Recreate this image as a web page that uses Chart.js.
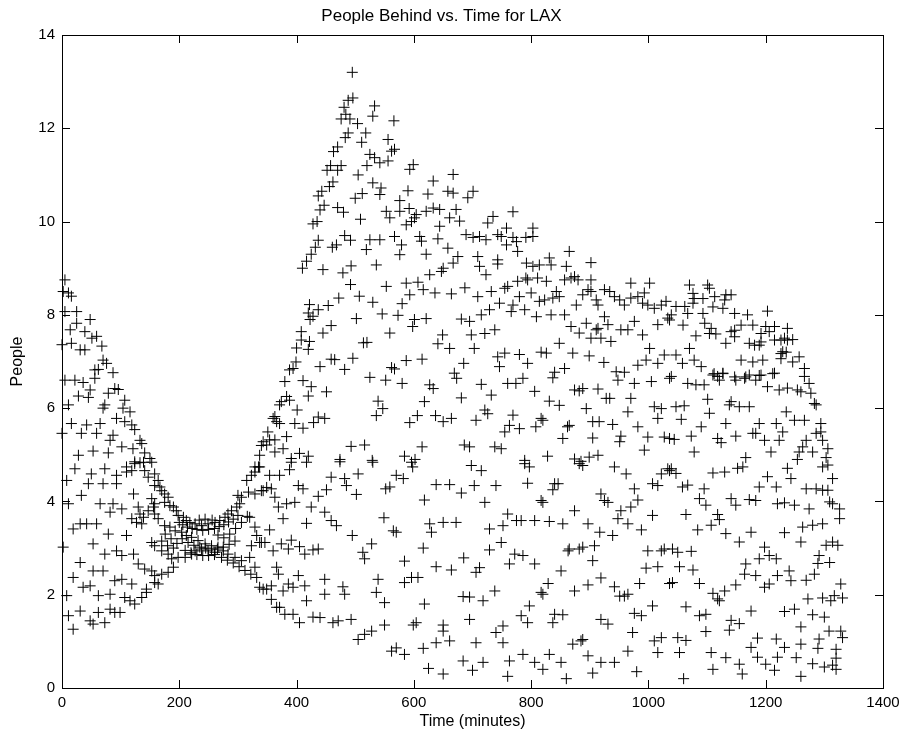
<!DOCTYPE html>
<html>
<head>
<meta charset="utf-8">
<script src="https://cdn.jsdelivr.net/npm/chart.js@4/dist/chart.umd.min.js"></script>
<style>
  html, body { margin: 0; padding: 0; background: #fff; }
  canvas { display: block; }
</style>
</head>
<body>
<canvas id="chart" width="913" height="739"></canvas>
<script>
// Axis ticks
const xTicks = [0, 200, 400, 600, 800, 1000, 1200, 1400];
const yTicks = [0, 2, 4, 6, 8, 10, 12, 14];

// Samples as [time in minutes, people behind]
const earlyHours = [
  [5,8.75],[2,8.5],[11,8.47],[16,8.4],[5,8.07],[25,8.07],[48,7.9],[25,7.82],[14,7.68],[39,7.64],[51,7.5],[59,7.54],
  [0,7.36],[16,7.39],[31,7.25],[39,7.25],[68,7.33],[70,7.03],[76,6.96],[62,6.83],[56,6.82],[87,6.76],[5,6.6],[22,6.6],
  [36,6.55],[56,6.64],[90,6.42],[96,6.4],[79,6.32],[48,6.39],[28,6.26],[45,6.23],[107,6.17],[11,6.07],[73,6.07],[70,6.0],
  [104,6.0],[116,5.92],[93,5.78],[107,5.71],[119,5.64],[124,5.54],[16,5.67],[42,5.64],[65,5.67],[0,5.46],[33,5.46],[59,5.46],
  [87,5.42],[82,5.31],[133,5.31],[136,5.24],[102,5.17],[121,5.13],[28,4.99],[53,5.08],[79,5.04],[141,5.04],[150,4.92],
  [124,4.85],[133,4.83],[329,4.74],[337,4.99],[340,5.2],
  [22,4.7],[50,4.59],[73,4.7],[93,4.56],[110,4.74],[124,4.81],[139,4.84],[153,4.84],[110,4.63],[119,4.66],[8,4.45],
  [45,4.38],[70,4.38],[93,4.38],[141,4.66],[147,4.52],[158,4.59],[164,4.45],[158,4.34],[167,4.31],[170,4.23],[175,4.16],
  [181,4.09],[33,4.13],[122,4.16],[153,4.06],[158,3.95],[156,3.88],[11,3.95],[65,3.95],[87,3.95],[102,3.84],[82,3.77],
  [130,3.88],[133,3.73],[139,3.66],[175,3.98],[184,3.91],[190,3.88],[195,3.8],[198,3.7],[207,3.66],[212,3.59],[218,3.55],
  [227,3.52],[238,3.48],[249,3.52],[261,3.55],[269,3.59],[278,3.66],[283,3.73],[289,3.8],[298,3.88],[303,3.95],[147,3.8],
  [158,3.73],[164,3.63],[119,3.63],[127,3.55],[136,3.52],[19,3.41],[31,3.52],[42,3.52],[59,3.52],[79,3.3],[110,3.27],
  [175,3.48],[184,3.45],[193,3.37],[204,3.34],[212,3.27],[221,3.23],[232,3.16],[244,3.09],[255,3.05],[266,3.02],[275,2.94],
  [283,2.87],[295,2.8],[306,2.73],[2,3.02],[53,3.09],[73,2.87],[93,2.94],[102,2.84],[122,2.87],[153,3.12],[158,3.05],
  [170,2.94],[181,2.87],[187,2.77],[198,2.8],[210,2.8],[221,2.87],[227,2.94],[238,2.98],[249,2.94],[261,2.91],[31,2.69],
  [53,2.51],[70,2.51],[130,2.66],[141,2.55],[153,2.51],[158,2.41],[170,2.44],[181,2.48],[190,2.59],[19,2.37],[36,2.16],
  [48,2.19],[90,2.3],[102,2.33],[119,2.23],[144,2.12],[158,2.26],[164,2.23],[8,1.98],[62,1.98],[82,2.01],[107,1.94],
  [116,1.87],[124,1.8],[136,1.94],[144,2.05],[11,1.55],[31,1.65],[48,1.44],[53,1.37],[62,1.62],[73,1.4],[82,1.69],
  [90,1.62],[99,1.62],[19,1.26],[315,4.45],[323,4.56],[329,4.63],[335,4.74],[300,4.13],[306,4.09],[318,4.2],[329,4.16],
  [340,4.23],[340,3.12],[320,3.66],[329,3.45],[332,3.27],[323,3.05],[320,2.8],[329,2.59],[332,2.37],[337,2.16],[343,2.12],
  [200,3.55],[206,3.5],[214,3.45],[222,3.42],[230,3.4],[240,3.38],[250,3.4],[260,3.42],[268,3.46],[276,3.5],[284,3.56],
  [292,3.62],[300,3.7],[205,3.2],[215,3.12],[225,3.06],[235,3.02],[245,3.0],[255,2.98],[265,2.98],[275,3.02],[285,3.08],
  [295,3.15],[210,2.95],[220,2.9],[230,2.86],[240,2.84],[250,2.84],[260,2.86],[272,2.8],[282,2.74],[292,2.68],[302,2.6],
  [312,2.52],[322,2.44],[196,3.1],[186,3.2],[176,3.3],[190,3.0],[180,3.05],[170,3.15],[234,3.6],[244,3.62],[256,3.6],
  [266,3.28],[276,3.22],[286,3.3],[296,3.42],[306,3.55],[316,3.68]
];

const midday = [
  [479,8.9],[445,8.97],[492,8.65],[553,8.61],[587,8.68],[607,8.7],[627,8.86],[647,8.93],[616,8.54],[636,8.47],[664,8.45],
  [687,8.58],[472,8.36],[507,8.4],[530,8.27],[580,8.24],[593,8.43],[422,8.22],[437,8.11],[454,8.2],[420,8.04],[428,7.97],
  [423,7.9],[502,7.92],[546,8.02],[573,7.99],[601,7.9],[621,7.92],[598,7.75],[681,7.91],[459,7.77],[408,7.64],[445,7.61],
  [559,7.61],[408,7.46],[422,7.43],[400,7.29],[420,7.26],[514,7.4],[520,7.41],[649,7.57],[641,7.38],[661,7.28],[459,7.05],
  [465,7.04],[496,7.07],[440,6.89],[399,6.99],[388,6.82],[394,6.85],[482,6.83],[587,7.02],[614,7.05],[562,6.87],[567,6.84],
  [685,6.96],[669,6.75],[673,6.64],[380,6.57],[411,6.59],[425,6.46],[525,6.66],[552,6.6],[580,6.53],[627,6.5],[633,6.42],
  [451,6.35],[420,6.26],[383,6.25],[374,6.14],[388,6.17],[371,6.07],[539,6.15],[547,5.99],[618,6.14],[681,6.22],[401,5.96],
  [363,5.82],[366,5.71],[371,5.67],[360,5.78],[437,5.81],[448,5.78],[429,5.69],[397,5.67],[411,5.57],[536,5.84],[606,5.84],
  [593,5.69],[637,5.84],[650,5.71],[664,5.78],[351,5.49],[343,5.28],[354,5.32],[363,5.32],[383,5.39],[349,5.21],[363,5.06],
  [377,5.13],[391,4.92],[405,5.03],[420,4.97],[493,5.18],[516,5.21],[614,5.17],[686,5.21],[474,4.9],[529,4.88],[584,4.97],
  [602,4.9],
  [337,4.74],[354,4.56],[371,4.56],[388,4.68],[391,4.84],[417,4.84],[474,4.85],[530,4.84],[505,4.59],[459,4.52],[482,4.49],
  [485,4.34],[570,4.56],[582,4.49],[598,4.74],[596,4.84],[638,4.36],[661,4.36],[681,4.18],[343,4.23],[349,4.3],[357,4.27],
  [403,4.34],[411,4.27],[451,4.25],[437,4.11],[502,4.15],[552,4.27],[559,4.31],[618,4.03],[363,4.09],[369,3.88],[383,3.95],
  [397,3.98],[425,3.88],[448,3.77],[459,3.59],[468,3.48],[377,3.63],[417,3.53],[549,3.65],[565,3.37],[570,3.34],[627,3.52],
  [650,3.55],[672,3.55],[630,3.34],[495,3.27],[354,3.39],[337,3.12],[346,3.12],[374,3.09],[391,3.17],[405,3.03],[386,2.98],
  [360,2.94],[414,2.87],[428,2.96],[437,2.98],[528,3.09],[513,2.91],[516,2.77],[616,3.0],[584,2.72],[638,2.6],[664,2.53],
  [685,2.79],[366,2.59],[369,2.44],[403,2.41],[386,2.23],[414,2.19],[448,2.33],[349,2.12],[357,2.19],[377,2.08],[394,2.16],
  [448,2.01],[479,2.17],[482,2.01],[539,2.33],[536,2.05],[550,1.83],[584,2.26],[596,2.37],[607,2.37],[357,1.9],[371,1.73],
  [417,1.87],[366,1.73],[380,1.58],[394,1.58],[405,1.4],[428,1.52],[440,1.51],[462,1.4],[471,1.44],[493,1.47],[684,1.96],
  [618,1.8],[550,1.35],[599,1.35],[604,1.4],[650,1.35],[650,1.22],[505,1.04],[516,1.15],[528,1.22],[638,0.97],[661,1.01],
  [562,0.79],[570,0.86],[584,0.72],[616,0.85],[684,0.58]
];

const crest = [
  [410,9.0],[417,9.15],[425,9.3],[432,9.45],[437,9.6],[428,9.95],[435,10.0],[440,10.25],[447,10.35],[437,10.55],[443,10.65],
  [456,10.75],[462,10.85],[452,11.1],[458,11.2],[470,11.1],[476,11.2],[463,11.5],[470,11.6],[483,11.8],[488,11.9],[476,12.2],
  [484,12.3],[491,12.2],[488,12.6],[496,12.65],[481,12.45],[495,13.2],[504,12.1],[511,11.7],[518,11.9],[470,10.3],[480,10.2],
  [500,10.5],[509,10.05],[482,9.7],[492,9.6],[461,9.45],[468,9.5],[519,9.4],[493,9.05],[512,10.6],[505,11.0],[520,11.2],
  [533,12.48],[530,12.26],[566,12.16],[556,11.76],[562,11.51],[567,11.55],[525,11.44],[533,11.37],[542,11.26],[556,11.3],
  [599,11.22],[593,11.12],[667,11.01],[633,10.87],[530,10.83],[544,10.72],[542,10.58],[590,10.66],[624,10.59],[658,10.65],
  [667,10.61],[701,10.65],[692,10.51],[576,10.45],[553,10.22],[559,10.08],[576,10.22],[592,10.28],[604,10.15],[621,10.22],
  [633,10.29],[644,10.26],[672,10.26],[678,10.01],[661,10.08],[587,9.93],[596,10.0],[601,10.08],[644,9.9],[735,10.11],
  [726,9.97],[769,10.21],[567,9.68],[579,9.5],[542,9.61],[525,9.61],[610,9.68],[613,9.58],[641,9.63],[658,9.43],[621,9.3],
  [689,9.72],[701,9.66],[712,9.68],[723,9.61],[743,9.72],[749,9.68],[758,9.86],[769,9.66],[791,9.66],[803,9.68],[803,9.86],
  [758,9.5],[775,9.57],[777,9.36],[576,9.29],[536,9.07],[675,9.25],[667,9.11],[650,9.0],[709,9.25],[712,9.04],[743,9.18],
  [743,9.09],[792,9.11],[803,9.04],[814,9.07],[831,9.22],[834,9.07],[865,9.36],[860,9.04],[902,9.12]
];

const afternoon = [
  [723,8.86],[811,8.79],[826,8.72],[794,8.75],[868,8.79],[880,8.75],[902,8.75],[857,8.75],[874,8.82],[777,8.72],[760,8.61],
  [755,8.57],[709,8.39],[732,8.5],[746,8.25],[769,8.21],[780,8.39],[791,8.79],[800,8.47],[814,8.29],[823,8.32],[837,8.36],
  [843,8.5],[848,8.39],[877,8.21],[888,8.43],[897,8.54],[902,8.5],[911,8.32],[914,8.21],[925,8.54],[934,8.5],[942,8.39],
  [951,8.32],[959,8.21],[970,8.68],[970,8.36],[982,8.39],[993,8.47],[1002,8.68],[990,8.25],[999,8.21],[1010,8.14],[1022,8.21],
  [1030,8.29],[1039,8.0],[1036,7.89],[729,8.11],[715,8.0],[695,7.86],[698,7.57],[766,8.07],[789,8.11],[809,7.96],[834,8.0],
  [857,8.0],[925,7.96],[931,7.79],[914,7.71],[868,7.75],[882,7.61],[894,7.82],[902,7.5],[911,7.68],[919,7.5],[936,7.43],
  [953,7.68],[965,7.68],[976,7.86],[990,7.57],[1016,7.79],[1033,7.93],[721,7.6],[738,7.68],[703,7.28],[848,7.39],[1002,7.28],
  [996,7.03],[1016,6.96],[1027,7.14],[1036,6.64],[743,7.1],[755,7.18],[780,7.15],[794,6.96],[817,7.2],[826,7.18],[871,7.18],
  [899,7.12],[924,6.98],[746,6.89],[840,6.77],[857,6.85],[837,6.65],[945,6.78],[959,6.77],[948,6.6],[982,6.92],[976,6.53],
  [1005,6.57],[786,6.64],[760,6.53],[774,6.53],[715,6.51],[732,6.28],[806,6.36],[874,6.39],[882,6.37],[888,6.42],[914,6.41],
  [928,6.21],[934,6.21],[970,6.21],[721,5.96],[726,5.88],[831,6.15],[848,6.06],[894,5.99],[965,5.92],[1010,6.03],[1022,5.99],
  [1016,5.78],[706,5.74],[769,5.85],[817,5.78],[820,5.74],[755,5.49],[763,5.63],[780,5.56],[808,5.6],[862,5.6],[865,5.63],
  [905,5.71],[916,5.71],[939,5.65],[854,5.35],[905,5.36],[953,5.4],[951,5.28],[982,5.6],[999,5.38],[1027,5.38],[1036,5.35],
  [695,5.17],[738,5.17],[749,5.13],[789,4.88],[828,4.97],[874,4.91],[885,4.86],[899,4.95],[914,4.99],[993,5.1],
  [698,4.77],[715,4.66],[789,4.81],[797,4.74],[882,4.81],[888,4.77],[942,4.74],[962,4.59],[1022,4.59],[1033,4.7],[1036,4.66],
  [703,4.34],[740,4.34],[794,4.39],[840,4.38],[846,4.38],[837,4.25],[1007,4.38],[1016,4.34],[976,4.27],[721,3.98],[817,4.02],
  [820,3.98],[919,4.16],[931,3.98],[925,4.02],[982,4.03],[970,3.88],[874,3.8],[953,3.8],[948,3.63],[965,3.52],[760,3.73],
  [775,3.59],[783,3.59],[806,3.59],[831,3.57],[854,3.52],[1007,3.7],[729,3.41],[752,3.48],[897,3.52],[917,3.34],[939,3.27],
  [988,3.39],[749,3.12],[863,2.94],[865,2.98],[882,2.98],[888,3.02],[908,3.05],[729,2.96],[772,2.87],[786,2.84],[763,2.66],
  [806,2.66],[999,2.94],[1022,2.94],[1027,2.98],[905,2.73],[712,2.58],[706,2.48],[851,2.51],[996,2.57],[1016,2.6],[1036,2.24],
  [829,2.24],[985,2.24],[897,2.21],[919,2.36],[874,2.08],[817,2.05],[820,2.01],[942,2.17],[951,1.97],[959,1.97],[965,2.01],
  [738,2.08],[695,1.95],[718,1.87],[797,1.76],[1007,1.76],[783,1.55],[794,1.4],[837,1.4],[840,1.58],[854,1.57],[919,1.47],
  [931,1.37],[976,1.6],[988,1.55],[695,1.47],[752,1.33],[740,1.19],[752,0.97],[973,1.19],[706,0.97],[871,0.94],[885,1.01],
  [888,1.04],[1010,1.01],[1022,1.08],[786,0.72],[831,0.72],[897,0.69],[965,0.79],[1016,0.76],[718,0.55],[763,0.58],[806,0.55],
  [851,0.55],[919,0.55],[942,0.55]
];

const evening = [
  [1070,8.64],[1101,8.64],[1104,8.57],[1076,8.46],[1078,8.35],[1093,8.35],[1113,8.39],[1132,8.43],[1141,8.43],[1130,8.32],
  [1047,8.18],[1062,8.18],[1076,8.25],[1067,8.03],[1093,8.03],[1110,8.17],[1127,8.14],[1147,8.03],[1169,8.0],[1203,8.08],
  [1059,7.78],[1096,7.82],[1107,7.71],[1158,7.78],[1178,7.78],[1200,7.75],[1215,7.75],[1147,7.67],[1081,7.55],[1104,7.6],
  [1115,7.59],[1141,7.64],[1147,7.53],[1192,7.6],[1206,7.64],[1192,7.42],[1226,7.46],[1232,7.5],[1132,7.39],[1172,7.39],
  [1181,7.35],[1189,7.35],[1215,7.46],[1237,7.46],[1070,7.28],[1226,7.17],[1047,7.14],[1058,6.96],[1078,7.03],[1090,6.89],
  [1158,7.03],[1178,6.99],[1195,7.03],[1226,7.06],[1235,7.2],[1112,6.74],[1127,6.74],[1147,6.67],[1166,6.67],[1189,6.7],
  [1212,6.74],[1246,7.47],[1257,7.1],[1246,6.99],[1266,6.85],[1237,7.71],[1229,7.21],
  [1039,6.68],[1067,6.53],[1081,6.5],[1095,6.5],[1110,6.71],[1118,6.68],[1127,6.75],[1121,6.6],[1149,6.6],[1164,6.64],
  [1172,6.71],[1183,6.6],[1192,6.71],[1215,6.75],[1203,6.46],[1223,6.39],[1237,6.43],[1254,6.39],[1260,6.35],[1266,6.68],
  [1274,6.53],[1047,6.03],[1061,6.05],[1101,6.19],[1141,6.14],[1138,6.07],[1155,6.03],[1172,6.03],[1056,5.76],[1104,5.89],
  [1235,5.92],[1277,6.32],[1283,6.1],[1286,6.07],[1090,5.6],[1132,5.67],[1189,5.67],[1218,5.67],[1249,5.74],[1266,5.74],
  [1294,5.67],[1178,5.46],[1183,5.46],[1198,5.31],[1229,5.49],[1223,5.31],[1209,5.06],[1269,5.31],[1286,5.46],[1294,5.49],
  [1297,5.31],[1306,5.13],[1263,5.17],[1257,5.06],[1280,5.06],[1044,5.33],[1073,5.4],[1118,5.35],[1124,5.26],[1149,5.4],
  [1078,5.06],[1166,4.94],[1161,4.74],[1152,4.71],[1254,4.9],[1237,4.71],[1243,4.49],[1303,4.94],[1306,4.78],[1297,4.74],
  [1039,4.7],[1047,4.6],[1110,4.61],[1130,4.63],[1203,4.53],[1189,4.31],[1218,4.31],[1314,4.49],[1058,4.31],[1067,4.35],
  [1095,4.27],[1269,4.27],[1286,4.27],[1297,4.24],[1306,4.24],[1087,4.06],[1098,3.92],[1141,4.06],[1149,3.92],[1172,4.04],
  [1183,4.02],[1220,3.95],[1232,3.97],[1249,3.92],[1274,3.84],[1309,3.99],[1314,3.95],[1326,3.84],[1326,3.63],[1064,3.72],
  [1118,3.72],[1121,3.61],[1084,3.39],[1107,3.49],[1132,3.31],[1175,3.34],[1232,3.33],[1263,3.45],[1280,3.49],[1297,3.52],
  [1260,3.13],[1303,3.06],[1314,3.13],[1323,3.06],[1041,2.98],[1050,2.91],[1073,2.93],[1155,3.13],[1198,3.02],
  [1206,2.84],[1218,2.77],[1189,2.77],[1166,2.66],[1291,2.84],[1289,2.67],[1309,2.69],[1053,2.6],[1076,2.53],[1041,2.26],
  [1087,2.24],[1164,2.44],[1183,2.41],[1220,2.41],[1240,2.51],[1243,2.3],[1269,2.31],[1283,2.44],[1149,2.21],[1130,2.08],
  [1110,2.03],[1118,1.91],[1121,1.87],[1198,2.16],[1206,2.23],[1328,2.23],[1272,1.91],[1297,1.93],[1311,1.87],[1317,1.98],
  [1331,1.93],[1064,1.74],[1087,1.55],[1098,1.58],[1175,1.65],[1232,1.64],[1249,1.69],[1280,1.57],[1300,1.52],[1141,1.45],
  [1155,1.38],[1138,1.24],[1260,1.31],[1308,1.22],[1328,1.22],[1331,1.08],[1098,1.21],[1050,1.08],[1064,1.02],[1186,1.07],
  [1218,1.05],[1260,0.94],[1291,1.05],[1175,0.87],[1232,0.87],[1289,0.85],[1320,0.83],[1053,0.76],[1107,0.76],[1132,0.65],
  [1186,0.66],[1220,0.66],[1252,0.65],[1320,0.64],[1155,0.51],[1200,0.51],[1280,0.52],[1314,0.49]
];

const floorValues = [
  [625,0.42],[650,0.3],[700,0.38],[760,0.25],[820,0.4],[860,0.2],[905,0.32],[980,0.35],[1060,0.2],[1110,0.4],
  [1160,0.3],[1215,0.38],[1260,0.25],[1300,0.45],[1320,0.4]
];

const TITLE = 'People Behind vs. Time for LAX';
const X_LABEL = 'Time (minutes)';
const Y_LABEL = 'People';
const FONT = '"Liberation Sans", Arial, Helvetica, sans-serif';

// Frame and inward tick marks on all four sides
const boxAxes = {
  id: 'boxAxes',
  afterDraw(chart) {
    const { ctx, chartArea: a, scales: { x, y } } = chart;
    const len = 8;
    ctx.save();
    ctx.strokeStyle = '#000';
    ctx.lineWidth = 1;
    ctx.strokeRect(Math.round(a.left) + 0.5, Math.round(a.top) + 0.5,
      Math.round(a.right - a.left), Math.round(a.bottom - a.top));
    ctx.beginPath();
    for (const v of xTicks) {
      const px = Math.round(x.getPixelForValue(v)) + 0.5;
      ctx.moveTo(px, a.bottom); ctx.lineTo(px, a.bottom - len);
      ctx.moveTo(px, a.top); ctx.lineTo(px, a.top + len);
    }
    for (const v of yTicks) {
      const py = Math.round(y.getPixelForValue(v)) + 0.5;
      ctx.moveTo(a.left, py); ctx.lineTo(a.left + len, py);
      ctx.moveTo(a.right, py); ctx.lineTo(a.right - len, py);
    }
    ctx.stroke();
    ctx.restore();
  }
};

const toPoints = arr => arr.map(([t, p]) => ({ x: t, y: p }));
const groups = [earlyHours, midday, crest, afternoon, evening, floorValues];
const plainNumber = v => String(v);

new Chart(document.getElementById('chart'), {
  type: 'scatter',
  data: {
    datasets: groups.map(g => ({
      data: toPoints(g),
      pointStyle: 'cross',
      pointRadius: 5.5,
      pointBorderWidth: 1,
      borderColor: '#000',
      backgroundColor: '#000',
      clip: false
    }))
  },
  options: {
    responsive: false,
    animation: false,
    devicePixelRatio: 1,
    layout: { padding: { left: 0, right: 30, top: 0, bottom: 0 } },
    plugins: {
      legend: { display: false },
      tooltip: { enabled: false },
      title: {
        display: true,
        text: TITLE,
        color: '#000',
        font: { family: FONT, size: 17, weight: 'normal' },
        padding: { top: 6, bottom: 8.6 }
      }
    },
    scales: {
      x: {
        type: 'linear',
        min: 0, max: 1400,
        afterBuildTicks: s => { s.ticks = xTicks.map(v => ({ value: v })); },
        ticks: { color: '#000', font: { family: FONT, size: 15 }, padding: 6, maxRotation: 0, callback: plainNumber },
        grid: { display: false, drawTicks: false },
        border: { display: false },
        title: { display: true, text: X_LABEL, color: '#000', font: { family: FONT, size: 16 }, padding: { top: 0, bottom: 8 } },
        afterFit: s => { s.height = 51; }
      },
      y: {
        type: 'linear',
        min: 0, max: 14,
        afterBuildTicks: s => { s.ticks = yTicks.map(v => ({ value: v })); },
        ticks: { color: '#000', font: { family: FONT, size: 15 }, padding: 7, callback: plainNumber },
        grid: { display: false, drawTicks: false },
        border: { display: false },
        title: { display: true, text: Y_LABEL, color: '#000', font: { family: FONT, size: 16 }, padding: { top: 8, bottom: 0 } },
        afterFit: s => { s.width = 62; }
      }
    }
  },
  plugins: [boxAxes]
});
</script>
</body>
</html>
